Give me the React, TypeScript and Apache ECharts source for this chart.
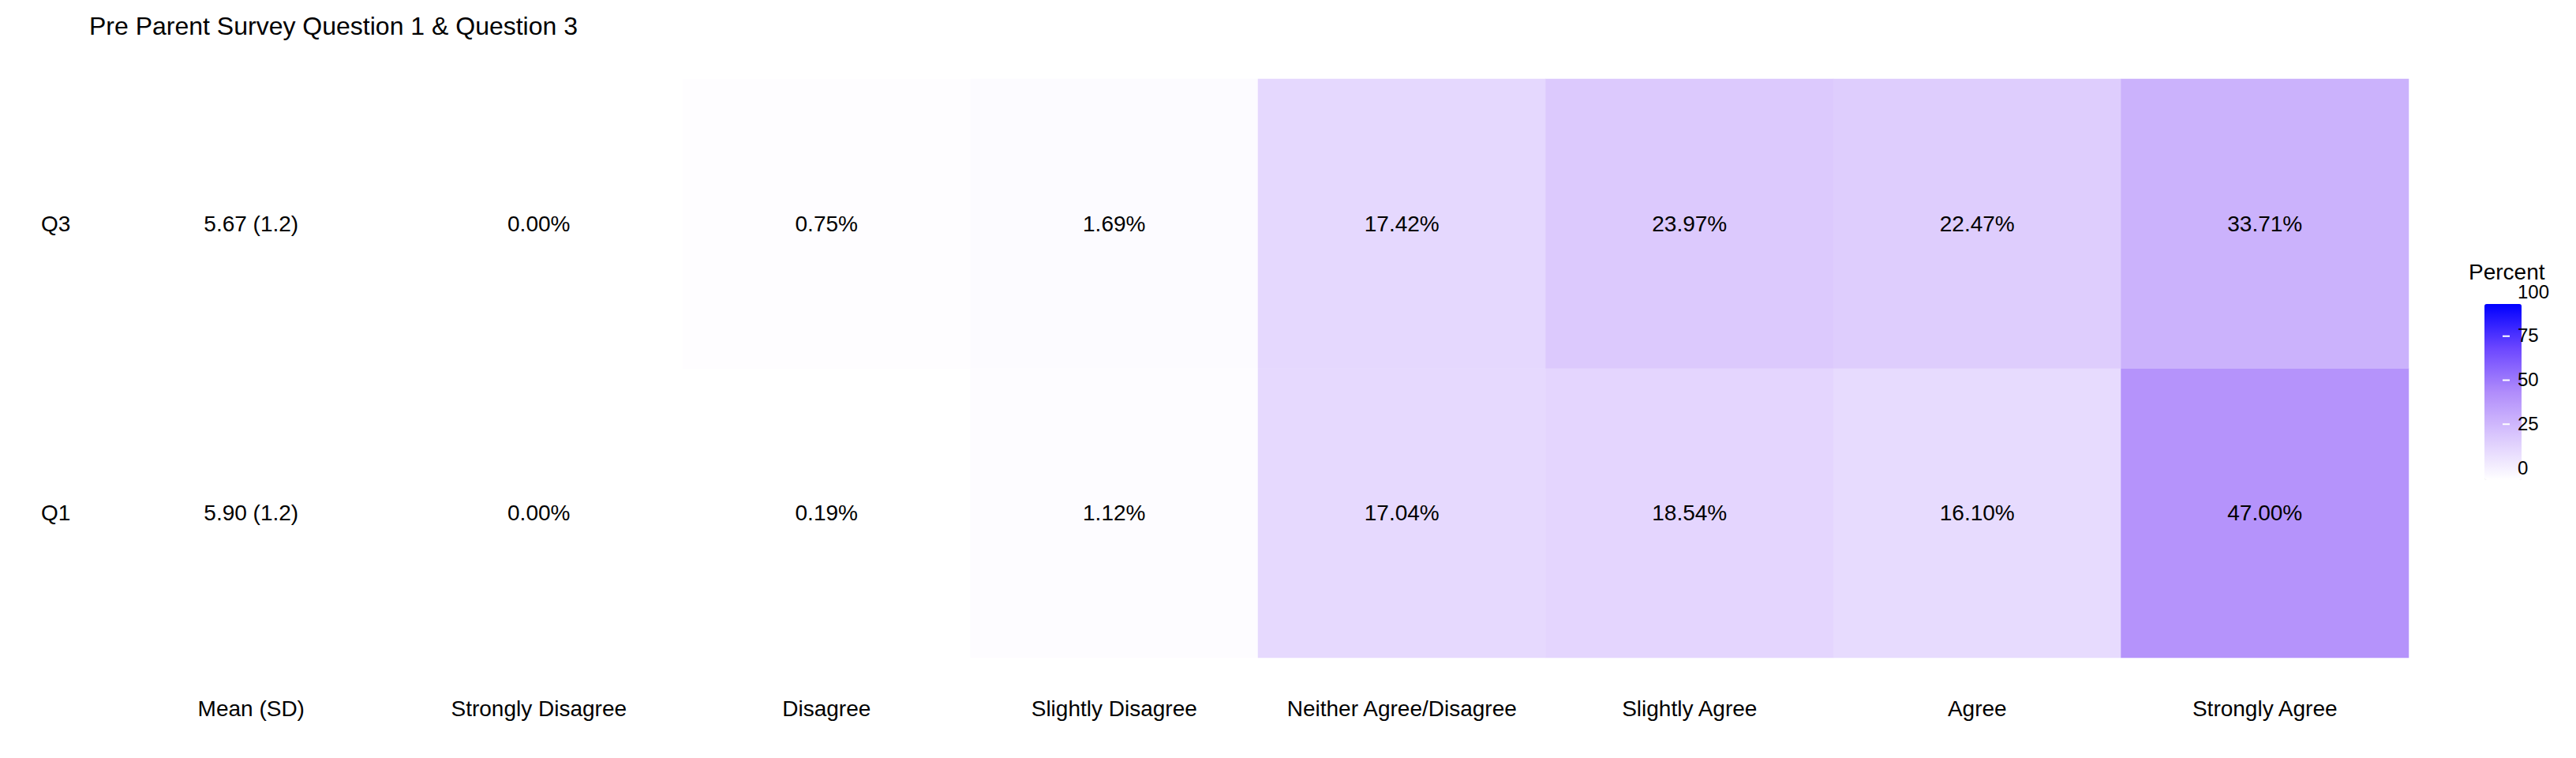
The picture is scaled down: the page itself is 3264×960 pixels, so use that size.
import React, { useEffect, useRef } from 'react';
import * as echarts from 'echarts';

const columns = ['Mean (SD)', 'Strongly Disagree', 'Disagree', 'Slightly Disagree', 'Neither Agree/Disagree', 'Slightly Agree', 'Agree', 'Strongly Agree'];
const questions = ['Q1', 'Q3'];
const means = ['5.90 (1.2)', '5.67 (1.2)'];
const q1Percent = [0.0, 0.19, 1.12, 17.04, 18.54, 16.1, 47.0];
const q3Percent = [0.0, 0.75, 1.69, 17.42, 23.97, 22.47, 33.71];
const legendTicks = [0, 25, 50, 75, 100];

const FONT = 'Liberation Sans, Arial, sans-serif';

const App: React.FC = () => {
    const chartRef = useRef<HTMLDivElement>(null);

    useEffect(() => {
        document.body.style.margin = '0';
        const chartDom = chartRef.current!;
        const myChart = echarts.init(chartDom, undefined, { renderer: 'svg' });

        const pctData: any[] = [];
        [q1Percent, q3Percent].forEach((row, r) => {
            row.forEach((v, i) => pctData.push([i + 1, r, v]));
        });
        const meanData = means.map((m, r) => ({ value: [0, r, 0], label: m }));

        // legend: bar top 370, bottom 593
        const barTop = 370, barBottom = 593;
        const tickGraphics: any[] = [];
        legendTicks.forEach((t) => {
            const y = barBottom - (t / 100) * (barBottom - barTop);
            tickGraphics.push({
                type: 'text', left: 3190, top: y - 13,
                style: { text: String(t), font: `24px ${FONT}`, fill: '#000' }, z: 100,
            });
            if (t > 0 && t < 100) {
                tickGraphics.push({ type: 'line', shape: { x1: 3134, y1: y, x2: 3143, y2: y }, style: { stroke: '#fff', lineWidth: 2 }, z: 100 });
                tickGraphics.push({ type: 'line', shape: { x1: 3171, y1: y, x2: 3180, y2: y }, style: { stroke: '#fff', lineWidth: 2 }, z: 100 });
            }
        });

        const option: any = {
            animation: false,
            title: {
                text: 'Pre Parent Survey Question 1 & Question 3',
                left: 108, top: 12,
                textStyle: { fontFamily: FONT, fontSize: 32, fontWeight: 'normal', color: '#000' },
            },
            grid: { left: 136, right: 3264 - 3052, top: 100, bottom: 960 - 833 },
            xAxis: {
                type: 'category', data: columns,
                axisLine: { show: false }, axisTick: { show: false }, splitArea: { show: false },
                axisLabel: { fontFamily: FONT, fontSize: 28, color: '#000', margin: 50, interval: 0 },
            },
            yAxis: {
                type: 'category', data: questions,
                axisLine: { show: false }, axisTick: { show: false },
                axisLabel: { fontFamily: FONT, fontSize: 28, color: '#000', align: 'left', margin: 84, interval: 0 },
            },
            visualMap: [
                {
                    type: 'continuous', min: 0, max: 100, seriesIndex: 0,
                    calculable: false, showLabel: false, text: ['', ''],
                    left: 3133, top: barTop, itemWidth: 47, itemHeight: barBottom - barTop,
                    inRange: { color: ['#FFFFFF', '#DAC7FD', '#B08CFB', '#6B46FF', '#0000FF'] },
                },
                {
                    type: 'continuous', min: 0, max: 1, seriesIndex: 1, show: false,
                    inRange: { color: ['#FFFFFF', '#FFFFFF'] },
                },
            ],
            graphic: [
                { type: 'text', left: 3128, top: 330, style: { text: 'Percent', font: `28px ${FONT}`, fill: '#000' } },
                ...tickGraphics,
            ],
            series: [
                {
                    type: 'heatmap', data: pctData,
                    label: {
                        show: true, fontFamily: FONT, fontSize: 28, color: '#000',
                        formatter: (p: any) => p.value[2].toFixed(2) + '%',
                    },
                },
                {
                    type: 'heatmap', data: meanData,
                    label: { show: true, fontFamily: FONT, fontSize: 28, color: '#000', formatter: (p: any) => p.data.label },
                },
            ],
        };

        myChart.setOption(option);
        return () => myChart.dispose();
    }, []);

    return <div ref={chartRef} style={{ width: 3264, height: 960 }} />;
};

export default App;
